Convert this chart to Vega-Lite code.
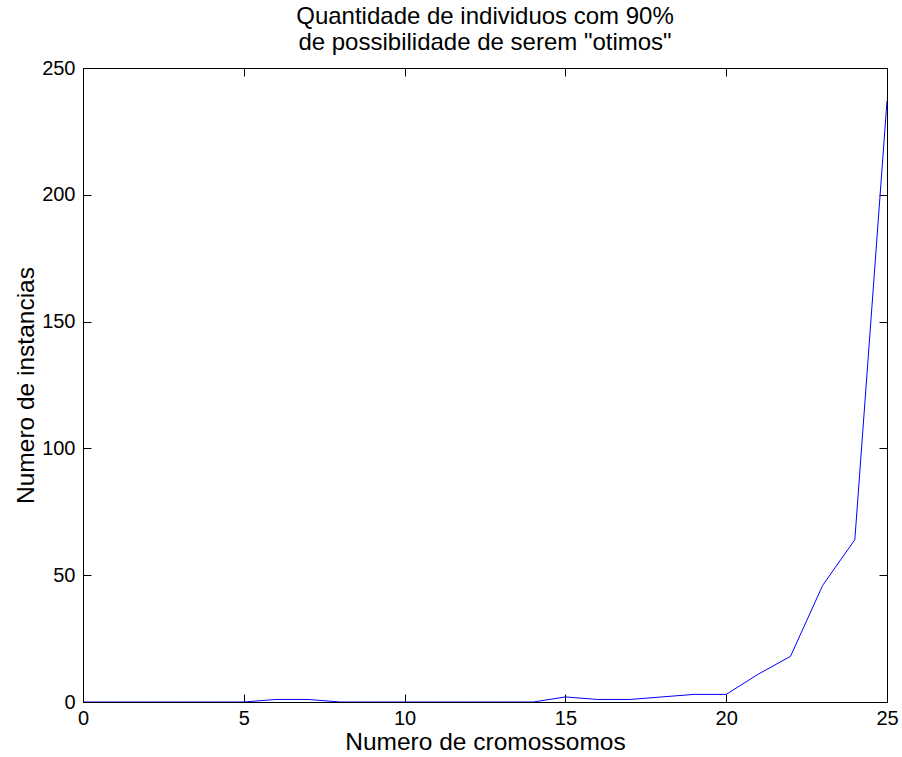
{
  "$schema": "https://vega.github.io/schema/vega-lite/v6.json",
  "width": 804,
  "height": 634,
  "autosize": {"type": "none"},
  "padding": {"left": 83, "top": 68, "right": 15, "bottom": 55},
  "background": "white",
  "title": {
    "text": ["Quantidade de individuos com 90%", "\u00a0de possibilidade de serem \"otimos\""],
    "font": "Liberation Sans",
    "fontSize": 24,
    "fontWeight": "normal",
    "color": "black",
    "lineHeight": 26,
    "offset": 3,
    "anchor": "middle"
  },
  "config": {
    "view": {"stroke": "black", "strokeWidth": 1},
    "axis": {
      "domain": false,
      "grid": false,
      "tickColor": "black",
      "tickSize": -8,
      "tickWidth": 1,
      "labelFont": "Liberation Sans",
      "labelFontSize": 20,
      "labelColor": "black",
      "titleFont": "Liberation Sans",
      "titleFontSize": 24.5,
      "titleFontWeight": "normal",
      "titleColor": "black"
    }
  },
  "data": {
    "values": [
      {"cromossomos": 0, "instancias": 0},
      {"cromossomos": 1, "instancias": 0},
      {"cromossomos": 2, "instancias": 0},
      {"cromossomos": 3, "instancias": 0},
      {"cromossomos": 4, "instancias": 0},
      {"cromossomos": 5, "instancias": 0},
      {"cromossomos": 6, "instancias": 1},
      {"cromossomos": 7, "instancias": 1},
      {"cromossomos": 8, "instancias": 0},
      {"cromossomos": 9, "instancias": 0},
      {"cromossomos": 10, "instancias": 0},
      {"cromossomos": 11, "instancias": 0},
      {"cromossomos": 12, "instancias": 0},
      {"cromossomos": 13, "instancias": 0},
      {"cromossomos": 14, "instancias": 0},
      {"cromossomos": 15, "instancias": 2},
      {"cromossomos": 16, "instancias": 1},
      {"cromossomos": 17, "instancias": 1},
      {"cromossomos": 18, "instancias": 2},
      {"cromossomos": 19, "instancias": 3},
      {"cromossomos": 20, "instancias": 3},
      {"cromossomos": 21, "instancias": 11},
      {"cromossomos": 22, "instancias": 18},
      {"cromossomos": 23, "instancias": 46},
      {"cromossomos": 24, "instancias": 64},
      {"cromossomos": 25, "instancias": 237}
    ]
  },
  "layer": [
    {
      "mark": {"type": "line", "color": "#0000ff", "strokeWidth": 1, "clip": true},
      "encoding": {
        "x": {
          "field": "cromossomos",
          "type": "quantitative",
          "scale": {"domain": [0, 25], "nice": false, "zero": false},
          "axis": {"values": [0, 5, 10, 15, 20, 25], "title": "Numero de cromossomos", "labelPadding": 14, "titlePadding": 2, "labelFlush": false}
        },
        "y": {
          "field": "instancias",
          "type": "quantitative",
          "scale": {"domain": [0, 250], "nice": false},
          "axis": {"values": [0, 50, 100, 150, 200, 250], "title": "Numero de instancias", "labelPadding": 16, "titlePadding": 3, "labelFlush": false}
        }
      }
    },
    {
      "mark": {"type": "line", "opacity": 0},
      "encoding": {
        "x": {
          "field": "cromossomos",
          "type": "quantitative",
          "axis": {"orient": "top", "values": [0, 5, 10, 15, 20, 25], "labels": false, "title": null}
        },
        "y": {
          "field": "instancias",
          "type": "quantitative",
          "axis": {"orient": "right", "values": [0, 50, 100, 150, 200, 250], "labels": false, "title": null}
        }
      }
    }
  ],
  "resolve": {"axis": {"x": "independent", "y": "independent"}}
}
